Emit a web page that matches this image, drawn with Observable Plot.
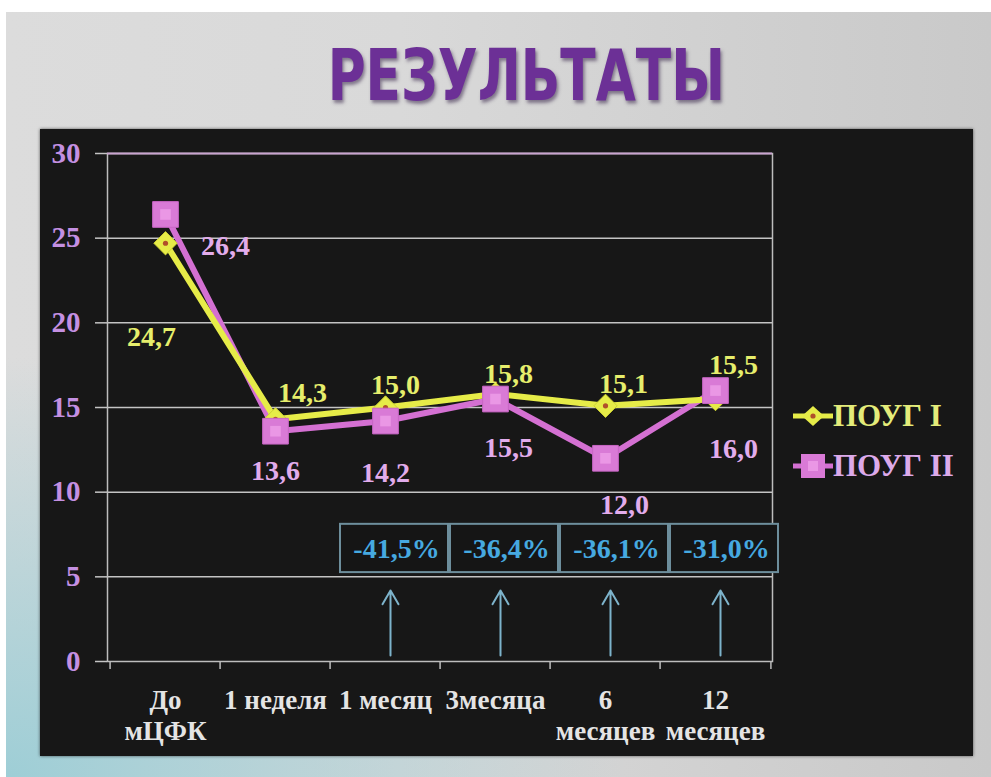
<!DOCTYPE html>
<html><head><meta charset="utf-8">
<script src="https://cdn.jsdelivr.net/npm/d3@7"></script>
<script src="https://cdn.jsdelivr.net/npm/@observablehq/plot@0.6"></script>
<style>
html,body{margin:0;padding:0;background:#fff;width:991px;height:777px;overflow:hidden;position:relative;}
#slide{position:absolute;left:6px;top:12px;width:985px;height:765px;
 background:
  radial-gradient(ellipse 620px 420px at 0% 100%, rgba(158,206,214,1) 0%, rgba(158,206,214,0.55) 45%, rgba(158,206,214,0) 100%),
  linear-gradient(90deg, #dcdcdc 0%, #d9d9d9 40%, #c9c9c9 100%);}
#title{position:absolute;left:0;top:39px;width:1052px;text-align:center;line-height:72px;
 font-family:"Liberation Sans Narrow","DejaVu Sans Condensed","Liberation Sans",sans-serif;font-weight:bold;font-size:72px;
 color:#6c3096;text-shadow:2px 3px 4px rgba(40,20,60,0.5);}
#title span{display:inline-block;transform:scaleX(0.8);transform-origin:50% 50%;}
#panel{position:absolute;left:40px;top:129px;width:933px;height:627px;background:#171717;box-shadow:0 0 3px rgba(0,0,0,0.6);}
#legend{position:absolute;left:753px;top:270px;font-family:"Liberation Serif","Times New Roman",serif;font-weight:bold;font-size:31px;}
#legend .item{position:absolute;left:0;white-space:nowrap;height:34px;line-height:34px;}
#legend svg{vertical-align:middle;position:relative;top:-3px;}
#chart svg text{font-family:"Liberation Serif","Times New Roman",serif;font-weight:bold;}
svg [aria-label="y-axis tick label"]{fill:#c490e2;}
svg [aria-label="x-axis tick label"]{fill:#e4e4e4;}
</style>
</head><body>
<div id="slide"></div>
<div id="title"><span>РЕЗУЛЬТАТЫ</span></div>
<div id="panel"><div id="chart"></div><div id="legend"></div></div>
<script>
// ---- data ----
const categories = ["До мЦФК","1 неделя","1 месяц","3месяца","6 месяцев","12 месяцев"];
const tickLabels = ["До\nмЦФК","1 неделя","1 месяц","3месяца","6\nмесяцев","12\nмесяцев"];
const series1Name = "ПОУГ I";
const series1Values = [24.7,14.3,15.0,15.8,15.1,15.5];
const series2Name = "ПОУГ II";
const series2Values = [26.4,13.6,14.2,15.5,12.0,16.0];
const changeCategories = ["1 месяц","3месяца","6 месяцев","12 месяцев"];
const changeValues = [-41.5,-36.4,-36.1,-31.0];
const yTicks = [0,5,10,15,20,25,30];

// ---- layout / style ----
const W=933,H=627,ML=67,MR=201,MT=24,MB=95;
const bw=(W-ML-MR)/categories.length;
const upx=(H-MT-MB)/30;
const lab1Off=[[-14,94],[27,-26],[10,-22],[13,-20],[18,-22],[18,-34]];
const lab2Off=[[60,32],[0,40],[0,52],[13,49],[19,47],[18,58]];
const C1="#e6ec48", C1t="#e6ee6c", C2="#d470d2", C2t="#e2acec";
const serif="Liberation Serif";
const fmt=v=>v.toFixed(1).replace(".",",");
const labelMap=new Map(categories.map((c,i)=>[c,tickLabels[i]]));

const data1=categories.map((c,i)=>({cat:c,v:series1Values[i]}));
const data2=categories.map((c,i)=>({cat:c,v:series2Values[i]}));
const changes=changeCategories.map((c,i)=>({cat:c,v:changeValues[i]}));

const labelMarks=[];
data1.forEach((d,i)=>labelMarks.push(Plot.text([d],{x:"cat",y:"v",text:d=>fmt(d.v),dx:lab1Off[i][0],dy:lab1Off[i][1],fill:C1t,fontSize:28,fontWeight:"bold",fontFamily:serif})));
data2.forEach((d,i)=>labelMarks.push(Plot.text([d],{x:"cat",y:"v",text:d=>fmt(d.v),dx:lab2Off[i][0],dy:lab2Off[i][1],fill:C2t,fontSize:28,fontWeight:"bold",fontFamily:serif})));

const chart=Plot.plot({
  width:W,height:H,marginLeft:ML,marginRight:MR,marginTop:MT,marginBottom:MB,
  style:{background:"transparent",fontFamily:serif,overflow:"visible"},
  x:{type:"band",domain:categories,padding:0,label:null},
  y:{domain:[0,30],label:null},
  marks:[
    Plot.gridY(yTicks.filter(t=>t>0&&t<30),{stroke:"#c4c4c4",strokeOpacity:1,strokeWidth:1.5}),
    Plot.frame({stroke:"#bdbdbd",strokeWidth:1.5}),
    Plot.ruleY([30],{stroke:"#c9a4cf",strokeWidth:2}),
    Plot.axisY({ticks:yTicks,tickSize:12,tickPadding:15,stroke:"#c4c4c4",strokeWidth:1.5,fill:"#c490e2",fontSize:29,fontWeight:"bold",fontFamily:serif,label:null}),
    Plot.axisX({tickSize:0,tickPadding:25,tickFormat:d=>labelMap.get(d),fill:"#e4e4e4",fontSize:27,fontWeight:"bold",fontFamily:serif,lineHeight:1.15,label:null}),
    Plot.ruleX(categories,{x:d=>d,y1:0,y2:-8/upx,dx:-bw/2,stroke:"#bdbdbd",strokeWidth:1.5}),
    Plot.ruleX(categories.slice(-1),{x:d=>d,y1:0,y2:-8/upx,dx:bw/2,stroke:"#bdbdbd",strokeWidth:1.5}),
    Plot.barY(changes,{x:"cat",y1:5.25,y2:8.1,dx:9,insetLeft:1,insetRight:1,fill:"#151515",stroke:"#6d8e9c",strokeWidth:2}),
    Plot.text(changes,{x:"cat",y:6.65,dx:11,text:d=>fmt(d.v)+"%",fill:"#46a9e0",fontSize:28,fontWeight:"bold",fontFamily:serif,letterSpacing:"-0.5px"}),
    Plot.arrow(changes,{x1:"cat",x2:"cat",y1:0.35,y2:4.2,dx:5,stroke:"#7db3cb",strokeWidth:2,headLength:12}),
    Plot.lineY(data2,{x:"cat",y:"v",stroke:C2,strokeWidth:6}),
    Plot.lineY(data1,{x:"cat",y:"v",stroke:C1,strokeWidth:6}),
    Plot.dot(data1,{x:"cat",y:"v",symbol:"diamond2",r:10.5,fill:C1,stroke:"#cdd232",strokeWidth:1}),
    Plot.dot(data1,{x:"cat",y:"v",r:2.6,fill:"#b0502a"}),
    Plot.dot(data2,{x:"cat",y:"v",symbol:"square",r:14.5,fill:"#d97ad6",stroke:"#c866c5",strokeWidth:1}),
    Plot.dot(data2,{x:"cat",y:"v",symbol:"square",r:6,fill:"#ee9fe8",fillOpacity:0.8}),
    ...labelMarks
  ]
});
document.getElementById("chart").appendChild(chart);

// legend
const legend=document.getElementById("legend");
const items=[
  {name:series1Name,color:C1,text:"#e4ec7a",marker:'<polygon points="20,2 31,12 20,22 9,12" fill="'+C1+'"/><circle cx="20" cy="12" r="2.6" fill="#b0502a"/>'},
  {name:series2Name,color:C2,text:"#dcaaea",marker:'<rect x="8" y="0" width="24" height="24" fill="#d97ad6"/><rect x="15" y="7" width="10" height="10" fill="#ee9fe8" opacity="0.8"/>'}
];
items.forEach((it,i)=>{
  const div=document.createElement("div");
  div.className="item";
  div.style.top=(i*50)+"px";
  div.innerHTML='<svg width="40" height="24"><line x1="0" y1="12" x2="40" y2="12" stroke="'+it.color+'" stroke-width="5"/>'+it.marker+'</svg><span style="color:'+it.text+'">'+it.name+'</span>';
  legend.appendChild(div);
});
</script>
</body></html>
